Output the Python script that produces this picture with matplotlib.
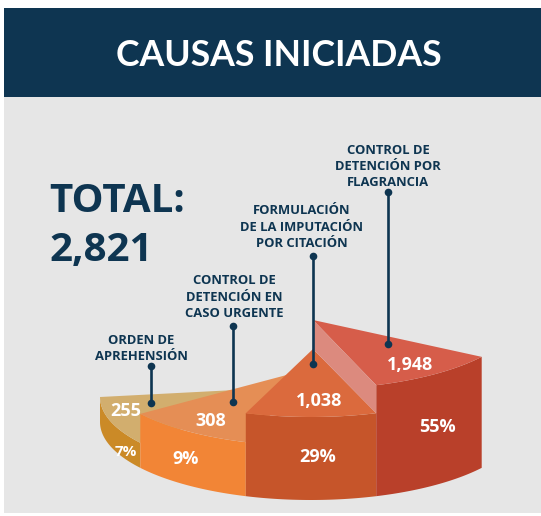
import numpy as np
import matplotlib.pyplot as plt
from matplotlib.patches import Polygon, Rectangle

# data
title = "CAUSAS INICIADAS"
total_label = "TOTAL:"
total = "2,821"
names = [["ORDEN DE", "APREHENSIÓN"],
         ["CONTROL DE", "DETENCIÓN EN", "CASO URGENTE"],
         ["FORMULACIÓN", "DE LA IMPUTACIÓN", "POR CITACIÓN"],
         ["CONTROL DE", "DETENCIÓN POR", "FLAGRANCIA"]]
values = ["255", "308", "1,038", "1,948"]
shares = ["7%", "9%", "29%", "55%"]

# colours
navy = "#0E3551"
gray = "#E6E6E6"
side_colors = ["#CB8A27", "#F28536", "#C6552A", "#B9402A"]
top_colors = ["#D2AE6E", "#E58E55", "#DB6A3D", "#D65D4A"]
wall_color = "#DC8A7E"

# layout of the stepped half pie, in pixels
cx, base_y, rx, ry = 311, 422, 211, 78
sweep_start = [180, 144, 108, 72]
sweep = 36
heights = [25, 54, 83, 111]
apex_shift = [-11, 0, 10, 9]

name_pos = [(141, 339), (234, 280), (302, 210), (388, 149)]
line_step = 16.3
leader_x = [151, 233, 313, 388]
leader_top = [366, 326, 256, 192]
leader_bottom = [403, 402, 364, 344]
value_pos = [(126, 409), (211, 419), (319, 399), (410, 363)]
share_pos = [(126, 450), (186, 457), (318, 456), (437, 425)]


def rim(a0, a1, yc):
    t = np.radians(np.linspace(a0, a1, 40))
    return np.column_stack([cx + rx * np.cos(t), yc + ry * np.sin(t)])


fig = plt.figure(figsize=(5.41, 5.16), dpi=100)
ax = fig.add_axes([0, 0, 1, 1])
ax.set_xlim(0, 541)
ax.set_ylim(516, 0)
ax.axis("off")

ax.add_patch(Rectangle((4, 97), 537, 416, color=gray, lw=0))
ax.add_patch(Rectangle((4, 8), 537, 89, color=navy, lw=0))
ax.text(279, 66, title, color="white", family="Lato", weight="bold", size=25.7,
        ha="center", va="baseline")

ax.text(49, 212, total_label, color=navy, family="Open Sans", weight="bold", size=29)
ax.text(49, 261, total, color=navy, family="Open Sans", weight="bold", size=29)

apexes = []
for i in range(4):
    a0, a1 = sweep_start[i], sweep_start[i] - sweep
    top_y = base_y - heights[i]
    apex = (cx + 2, top_y + apex_shift[i])
    apexes.append(apex)
    top_rim = rim(a0, a1, top_y)
    base_rim = rim(a1, a0, base_y)
    ax.add_patch(Polygon(np.vstack([top_rim, base_rim]), color=side_colors[i], lw=0))
    ax.add_patch(Polygon(np.vstack([[apex], top_rim]), color=top_colors[i], lw=0))

# wall of the tallest slice, seen above its neighbour
wall_top = rim(72, 72, base_y - heights[3])[0]
wall_low = rim(72, 72, base_y - heights[2])[0]
ax.add_patch(Polygon([apexes[3], wall_top, wall_low, apexes[2]], color=wall_color, lw=0))

for i in range(4):
    for j, line in enumerate(names[i]):
        ax.text(name_pos[i][0], name_pos[i][1] + 4.5 + j * line_step, line, color=navy,
                family="Open Sans", weight="bold", size=9.4, ha="center", va="baseline")
    ax.plot([leader_x[i]] * 2, [leader_top[i], leader_bottom[i]], color=navy, lw=1.9,
            solid_capstyle="butt")
    ax.plot([leader_x[i]] * 2, [leader_top[i], leader_bottom[i]], "o", color=navy, ms=5.5, mew=0)
    ax.text(value_pos[i][0], value_pos[i][1] + 6.5, values[i], color="white", family="Open Sans",
            weight="bold", size=13, ha="center", va="baseline")
    ax.text(share_pos[i][0], share_pos[i][1] + 6.5, shares[i], color="white", family="Open Sans",
            weight="bold", size=11 if i == 0 else 13, ha="center", va="baseline")

fig.savefig("out.png", dpi=100)
